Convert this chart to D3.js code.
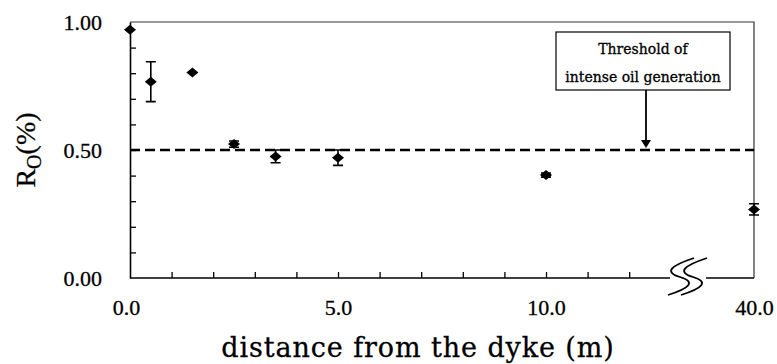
<!DOCTYPE html>
<html lang="en">
<head>
<meta charset="UTF-8">
<title>Ro vs distance from the dyke</title>
<script src="https://d3js.org/d3.v7.min.js"></script>
<style>
  body { margin: 0; background: #fff; }
  svg { display: block; }
</style>
</head>
<body>
<svg id="chart"></svg>
<script>
// data
var distances = [0, 0.5, 1.5, 2.5, 3.5, 5, 10, 40];
var roValues  = [0.97, 0.767, 0.803, 0.523, 0.475, 0.47, 0.402, 0.268];
var roErrors  = [0, 0.078, 0, 0.012, 0.025, 0.03, 0.008, 0.022];
var threshold = 0.5;
var xLabelTicks = [0, 5, 10, 40];
var xMinorTicks = [1, 2, 3, 4, 5, 6, 7, 8, 9, 10, 11, 12];
var yLabelTicks = [0, 0.5, 1.0];
var yMinorTicks = [0.1, 0.2, 0.3, 0.4, 0.5, 0.6, 0.7, 0.8, 0.9];

var width = 777, height = 364;
var plot = { left: 130, right: 754, top: 22, bottom: 278 };

var svg = d3.select("#chart")
    .attr("width", width)
    .attr("height", height);

// broken x axis: 0..14 linear, then jump to 40
var x = d3.scaleLinear()
    .domain([0, 14, 40])
    .range([plot.left, plot.left + 14 * 41.6, plot.right]);

var y = d3.scaleLinear()
    .domain([0, 1])
    .range([plot.bottom, plot.top]);

// frame (top + right)
svg.append("path")
    .attr("d", "M" + plot.left + "," + plot.top + "H" + plot.right + "V" + plot.bottom)
    .attr("fill", "none")
    .attr("stroke", "#333")
    .attr("stroke-width", 1.2);

// y axis
var yAxis = svg.append("g")
    .attr("transform", "translate(" + plot.left + ",0)")
    .call(d3.axisLeft(y).tickValues(yLabelTicks).tickSize(0).tickPadding(28)
        .tickFormat(d3.format(".2f")));
yAxis.select(".domain").attr("stroke", "#000").attr("stroke-width", 1.6);
yAxis.selectAll("text")
    .attr("font-family", "'Liberation Serif', serif")
    .attr("font-size", 22)
    .attr("fill", "#000")
    .attr("stroke", "#000").attr("stroke-width", 0.3);

svg.append("g")
    .attr("transform", "translate(" + plot.left + ",0)")
    .call(d3.axisRight(y).tickValues(yMinorTicks).tickSize(6).tickFormat(""))
    .call(function (g) { g.select(".domain").remove(); })
    .selectAll("line").attr("stroke", "#000").attr("stroke-width", 1.3);

// x axis line with gap at the break
var breakA = 670, breakB = 706;
svg.append("path")
    .attr("d", "M" + plot.left + "," + plot.bottom + "H" + breakA +
               "M" + breakB + "," + plot.bottom + "H" + plot.right)
    .attr("stroke", "#000")
    .attr("stroke-width", 1.6)
    .attr("fill", "none");

var xAxis = svg.append("g")
    .attr("transform", "translate(0," + plot.bottom + ")")
    .call(d3.axisBottom(x).tickValues(xLabelTicks).tickSize(0).tickPadding(21)
        .tickFormat(d3.format(".1f")));
xAxis.select(".domain").remove();
xAxis.selectAll("text")
    .attr("font-family", "'Liberation Serif', serif")
    .attr("font-size", 22)
    .attr("fill", "#000")
    .attr("stroke", "#000").attr("stroke-width", 0.3)
    .attr("dx", function (d) { return d === 0 ? -4 : 0; });

svg.append("g")
    .attr("transform", "translate(0," + plot.bottom + ")")
    .call(d3.axisTop(x).tickValues(xMinorTicks).tickSize(6).tickFormat(""))
    .call(function (g) { g.select(".domain").remove(); })
    .selectAll("line").attr("stroke", "#000").attr("stroke-width", 1.3);

// break symbol (two S strokes)
[0, 13].forEach(function (dx) {
    var x0 = 668 + dx;
    svg.append("path")
        .attr("d", "M" + (x0 + 26) + ",258 C" + (x0 + 2) + ",266 " + (x0 - 4) + ",272 " + (x0 + 12) + ",277" +
                   " S" + (x0 + 22) + ",288 " + x0 + ",295")
        .attr("fill", "none")
        .attr("stroke", "#000")
        .attr("stroke-width", 1.8);
});

// threshold line
svg.append("line")
    .attr("x1", plot.left).attr("x2", plot.right)
    .attr("y1", y(threshold)).attr("y2", y(threshold))
    .attr("stroke", "#000")
    .attr("stroke-width", 2.6)
    .attr("stroke-dasharray", "10,5");

// annotation box + arrow
svg.append("rect")
    .attr("x", 556).attr("y", 32)
    .attr("width", 174).attr("height", 58)
    .attr("fill", "#fff")
    .attr("stroke", "#000")
    .attr("stroke-width", 1.2);
svg.append("text")
    .attr("x", 643).attr("y", 54)
    .attr("text-anchor", "middle")
    .attr("font-family", "'DejaVu Serif', serif")
    .attr("font-size", 14)
    .attr("stroke", "#000").attr("stroke-width", 0.3)
    .text("Threshold of");
svg.append("text")
    .attr("x", 643).attr("y", 82)
    .attr("text-anchor", "middle")
    .attr("font-family", "'DejaVu Serif', serif")
    .attr("font-size", 14)
    .attr("stroke", "#000").attr("stroke-width", 0.3)
    .text("intense oil generation");
svg.append("line")
    .attr("x1", 646).attr("x2", 646)
    .attr("y1", 90).attr("y2", y(threshold) - 8)
    .attr("stroke", "#000").attr("stroke-width", 1.8);
svg.append("path")
    .attr("d", "M641," + (y(threshold) - 10) + "L651," + (y(threshold) - 10) + "L646," + (y(threshold) - 2) + "Z")
    .attr("fill", "#000");

// error bars
var pts = distances.map(function (d, i) {
    return { x: d, y: roValues[i], e: roErrors[i] };
});
var bars = svg.append("g");
pts.filter(function (d) { return d.e > 0; }).forEach(function (d) {
    var cx = x(d.x), y1 = y(d.y + d.e), y2 = y(d.y - d.e);
    bars.append("path")
        .attr("d", "M" + cx + "," + y1 + "V" + y2 +
                   "M" + (cx - 5) + "," + y1 + "H" + (cx + 5) +
                   "M" + (cx - 5) + "," + y2 + "H" + (cx + 5))
        .attr("stroke", "#000")
        .attr("stroke-width", 1.6)
        .attr("fill", "none");
});

// diamond markers
svg.append("g").selectAll("path")
    .data(pts)
    .join("path")
    .attr("d", function (d) {
        var cx = x(d.x), cy = y(d.y);
        return "M" + (cx - 6) + "," + cy + "L" + cx + "," + (cy - 5) +
               "L" + (cx + 6) + "," + cy + "L" + cx + "," + (cy + 5) + "Z";
    })
    .attr("fill", "#000");

// axis titles
svg.append("text")
    .attr("x", 418).attr("y", 357)
    .attr("text-anchor", "middle")
    .attr("font-family", "'DejaVu Serif', serif")
    .attr("font-size", 27)
    .attr("letter-spacing", 0.9)
    .attr("fill", "#000")
    .attr("stroke", "#000").attr("stroke-width", 0.3)
    .text("distance from the dyke (m)");

var yt = svg.append("text")
    .attr("transform", "translate(35,150) rotate(-90)")
    .attr("text-anchor", "middle")
    .attr("font-family", "'Liberation Serif', serif")
    .attr("font-size", 28)
    .attr("fill", "#000")
    .attr("stroke", "#000").attr("stroke-width", 0.3);
yt.append("tspan").text("R");
yt.append("tspan").attr("font-size", 20).attr("dy", 6).text("O");
yt.append("tspan").attr("dy", -6).text("(%)");
</script>
</body>
</html>
